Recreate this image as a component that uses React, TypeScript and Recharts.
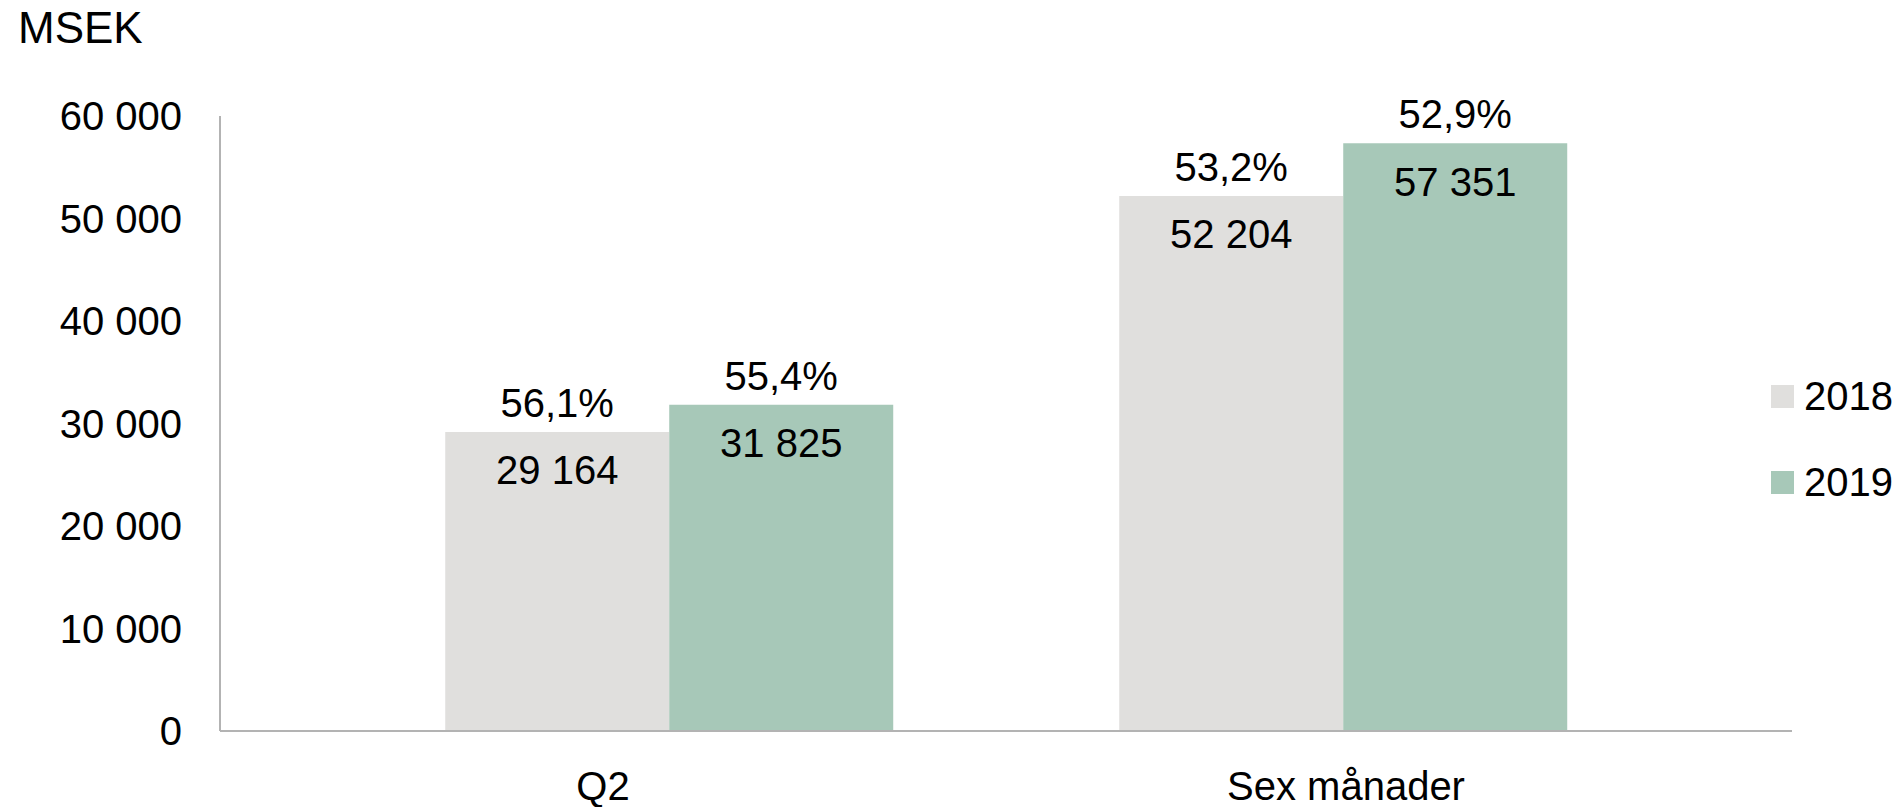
import React from "react";
import { BarChart, Bar, XAxis, YAxis, LabelList } from "recharts";

const categories = ["Q2", "Sex månader"];
const values2018 = [29164, 52204];
const values2019 = [31825, 57351];
const pct2018 = ["56,1%", "53,2%"];
const pct2019 = ["55,4%", "52,9%"];
const yTicks = [0, 10000, 20000, 30000, 40000, 50000, 60000];
const seriesNames = ["2018", "2019"];

const data = categories.map((c, i) => ({
  name: c,
  v2018: values2018[i],
  v2019: values2019[i],
  p2018: pct2018[i],
  p2019: pct2019[i],
}));

const FONT = '"Liberation Sans", Arial, Helvetica, sans-serif';
const C2018 = "#E0DFDD";
const C2019 = "#A7C8B8";
const AXIS = "#B3B3B3";
const FS = 40;

const fmt = (v: number) => String(v).replace(/\B(?=(\d{3})+(?!\d))/g, " ");

const xTickShift = [-66, 3];

const XTick = (props: any) => {
  const { x, y, payload, index } = props;
  return (
    <text x={x + (xTickShift[index] || 0)} y={y} dy="0.71em" textAnchor="middle" fontSize={FS} fontFamily={FONT} fill="#000">
      {payload.value}
    </text>
  );
};

const LegendBox = () => (
  <div style={{ position: "absolute", left: 1771, top: 353, fontFamily: FONT, fontSize: FS, color: "#000" }}>
    {seriesNames.map((n, i) => (
      <div key={n} style={{ display: "flex", alignItems: "center", height: 86 }}>
        <div style={{ width: 23, height: 23, background: i === 0 ? C2018 : C2019, marginRight: 10 }} />
        <span>{n}</span>
      </div>
    ))}
  </div>
);

export default function App() {
  return (
    <div style={{ position: "absolute", left: 0, top: 0, width: 1896, height: 807, background: "#fff" }}>
      <div style={{ position: "absolute", left: 18, top: 6, fontFamily: FONT, fontSize: 44, lineHeight: "44px", color: "#000" }}>
        MSEK
      </div>
      <BarChart
        width={1896}
        height={807}
        data={data}
        margin={{ top: 116, right: 104, bottom: 0, left: 0 }}
        barCategoryGap="16.8%"
        barGap={0}
      >
        <XAxis
          dataKey="name"
          padding={{ left: 112, right: 112 }}
          stroke={AXIS}
          strokeWidth={2}
          tickLine={false}
          tickSize={0}
          tickMargin={41}
          height={76}
          tick={<XTick />}
        />
        <YAxis
          width={220}
          domain={[0, 60000]}
          ticks={yTicks}
          tickFormatter={fmt}
          stroke={AXIS}
          strokeWidth={2}
          tickLine={false}
          tickSize={0}
          tickMargin={38}
          tick={{ fontSize: FS, fontFamily: FONT, fill: "#000" }}
        />
        <Bar dataKey="v2018" name="2018" fill={C2018} isAnimationActive={false}>
          <LabelList dataKey="p2018" position="top" offset={15} fontSize={FS} fontFamily={FONT} fill="#000" />
          <LabelList dataKey="v2018" position="insideTop" offset={24} formatter={(v: any) => fmt(v)} fontSize={FS} fontFamily={FONT} fill="#000" />
        </Bar>
        <Bar dataKey="v2019" name="2019" fill={C2019} isAnimationActive={false}>
          <LabelList dataKey="p2019" position="top" offset={15} fontSize={FS} fontFamily={FONT} fill="#000" />
          <LabelList dataKey="v2019" position="insideTop" offset={24} formatter={(v: any) => fmt(v)} fontSize={FS} fontFamily={FONT} fill="#000" />
        </Bar>
      </BarChart>
      <LegendBox />
    </div>
  );
}
